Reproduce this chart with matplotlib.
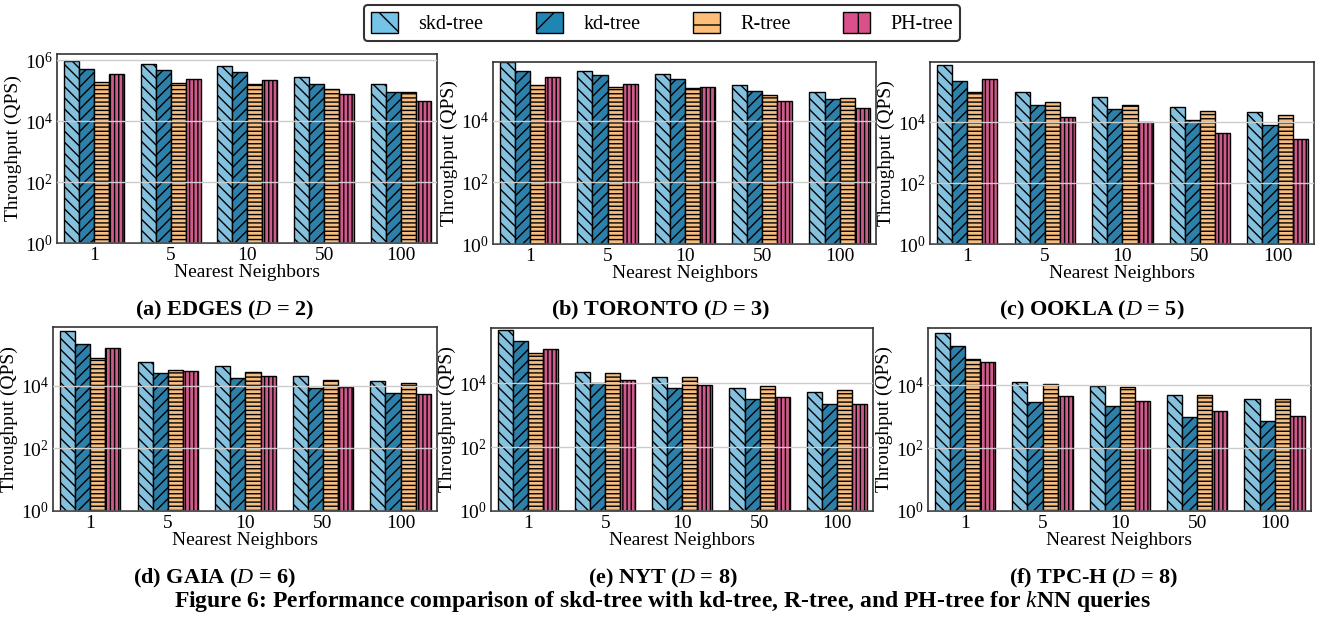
import numpy as np
import matplotlib
matplotlib.use("Agg")
import matplotlib.pyplot as plt
from matplotlib.patches import Patch

plt.rcParams.update({
    "font.family": "serif",
    "font.serif": ["Liberation Serif", "DejaVu Serif"],
    "mathtext.fontset": "custom",
    "mathtext.rm": "Liberation Serif",
    "mathtext.it": "Liberation Serif:italic",
    "mathtext.bf": "Liberation Serif:bold",
    "hatch.linewidth": 1.0,
})

neighbors = ["1", "5", "10", "50", "100"]
methods = ["skd-tree", "kd-tree", "R-tree", "PH-tree"]
colors = ["#74C3E8", "#1F86B4", "#FDBE7A", "#D9508B"]       # legend
bar_colors = ["#84C1DF", "#2C80A9", "#F6BD80", "#CF5A8C"]   # bars (look muted under hatch)
hatches = ["\\\\\\", "///", "----", "||||"]

titles = [
    r"(a) EDGES ($\mathit{D}$ = 2)",
    r"(b) TORONTO ($\mathit{D}$ = 3)",
    r"(c) OOKLA ($\mathit{D}$ = 5)",
    r"(d) GAIA ($\mathit{D}$ = 6)",
    r"(e) NYT ($\mathit{D}$ = 8)",
    r"(f) TPC-H ($\mathit{D}$ = 8)",
]

# throughput (QPS) per dataset: rows = skd, kd, R, PH ; cols = k
edges = [[9.5e5, 7.2e5, 6.5e5, 2.7e5, 1.7e5],
         [5.2e5, 4.6e5, 4.0e5, 1.6e5, 8.9e4],
         [1.9e5, 1.8e5, 1.6e5, 1.1e5, 8.7e4],
         [3.5e5, 2.4e5, 2.2e5, 7.7e4, 4.5e4]]
toronto = [[8.1e5, 4.0e5, 3.2e5, 1.4e5, 8.3e4],
           [4.0e5, 2.9e5, 2.3e5, 8.9e4, 4.9e4],
           [1.4e5, 1.2e5, 1.1e5, 7.0e4, 5.3e4],
           [2.6e5, 1.5e5, 1.2e5, 4.3e4, 2.5e4]]
ookla = [[7.2e5, 9.4e4, 6.7e4, 3.1e4, 2.1e4],
         [2.3e5, 3.6e4, 2.7e4, 1.2e4, 7.8e3],
         [9.4e4, 4.5e4, 3.7e4, 2.3e4, 1.7e4],
         [2.5e5, 1.5e4, 1.0e4, 4.3e3, 2.8e3]]
gaia = [[5.6e5, 5.9e4, 4.3e4, 2.0e4, 1.4e4],
        [2.2e5, 2.6e4, 1.8e4, 8.5e3, 5.9e3],
        [7.6e4, 3.2e4, 2.7e4, 1.5e4, 1.2e4],
        [1.6e5, 2.9e4, 2.1e4, 9.1e3, 5.5e3]]
nyt = [[4.6e5, 2.3e4, 1.6e4, 7.3e3, 5.6e3],
       [2.1e5, 1.07e4, 7.1e3, 3.3e3, 2.3e3],
       [9.0e4, 2.1e4, 1.6e4, 8.5e3, 6.3e3],
       [1.2e5, 1.3e4, 8.7e3, 3.7e3, 2.3e3]]
tpch = [[4.7e5, 1.3e4, 9.8e3, 4.8e3, 3.6e3],
        [1.8e5, 2.9e3, 2.2e3, 1.0e3, 7.2e2],
        [6.7e4, 1.1e4, 8.7e3, 4.9e3, 3.7e3],
        [5.4e4, 4.5e3, 3.2e3, 1.5e3, 1.05e3]]
datasets = [edges, toronto, ookla, gaia, nyt, tpch]

W, H = 1325, 618
fig = plt.figure(figsize=(W / 100, H / 100), dpi=100)

# axes boxes in pixels: left, top, right, bottom
boxes = [(57, 54, 437, 243), (493, 62, 876, 244), (930, 62, 1314, 244),
         (53, 327, 437, 511), (491, 328, 873, 511), (928, 328, 1311, 511)]
ytops = [10**6.2, 10**5.9, 10**5.97, 10**5.88, 10**5.74, 10**5.82]
caption_pos = [(225, 310), (660, 310), (1092, 310),
               (215, 578), (663, 578), (1094, 578)]

x = np.arange(len(neighbors))
w = 0.195
for k, data in enumerate(datasets):
    l, t, r, b = boxes[k]
    ax = fig.add_axes([l / W, 1 - b / H, (r - l) / W, (b - t) / H])
    for i in range(4):
        ax.bar(x + (i - 1.5) * w, data[i], w, color=bar_colors[i], hatch=hatches[i],
               edgecolor="black", linewidth=1.0, zorder=2)
    ax.set_yscale("log")
    ax.set_yticks([1, 1e2, 1e4, 1e6])
    ax.yaxis.set_minor_locator(matplotlib.ticker.NullLocator())
    ax.set_ylim(1, ytops[k])
    ax.set_xlim(-0.48, 4.47)
    ax.set_xticks(x)
    ax.set_xticklabels(neighbors)
    ax.tick_params(length=0, labelsize=14, pad=3)
    ax.grid(axis="y", color="#cccccc", linewidth=1.0, zorder=3)
    ax.set_axisbelow(False)
    ax.set_xlabel("Nearest Neighbors", fontsize=14, labelpad=0)
    ax.set_ylabel("Throughput (QPS)", fontsize=14, labelpad=2)
    for s in ax.spines.values():
        s.set_color("#333333")
        s.set_linewidth(1.2)
    cx, cy = caption_pos[k]
    fig.text(cx / W, 1 - cy / H, titles[k], ha="center", va="center",
             fontsize=16, fontweight="bold")

fig.text(662 / W, 1 - 601 / H,
         r"Figure 6: Performance comparison of skd-tree with kd-tree, R-tree, and PH-tree for $\mathit{k}$NN queries",
         ha="center", va="center", fontsize=17, fontweight="bold")

handles = [Patch(facecolor=colors[i], edgecolor="black", hatch=hatches[i][0], label=methods[i])
           for i in range(4)]
leg = fig.legend(handles=handles, loc="center", bbox_to_anchor=(662 / W, 1 - 23 / H),
                 ncol=4, fontsize=14.5, frameon=True, fancybox=True,
                 handlelength=1.35, handleheight=1.2, handletextpad=1.0,
                 columnspacing=2.6, borderpad=0.35)
leg.get_frame().set_edgecolor("black")
leg.get_frame().set_linewidth(1.5)

plt.savefig("out.png", dpi=100)
